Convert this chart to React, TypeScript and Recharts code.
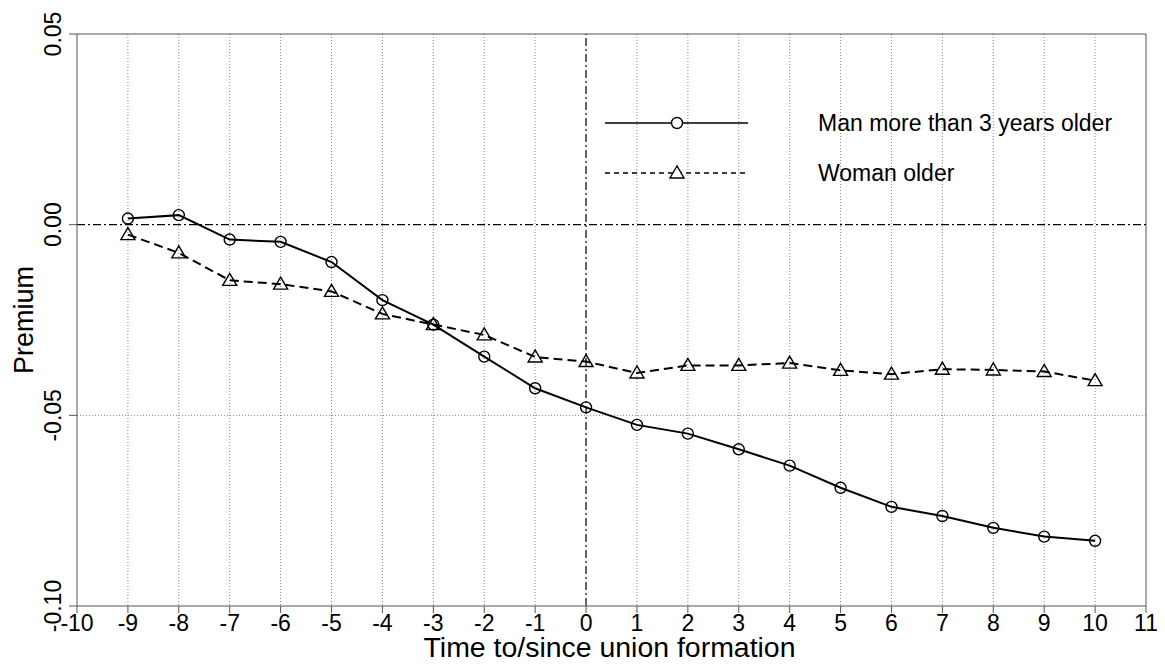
import React from 'react';
import { LineChart, Line, XAxis, YAxis, CartesianGrid, ReferenceLine, Legend, Label } from 'recharts';

const years = [-9, -8, -7, -6, -5, -4, -3, -2, -1, 0, 1, 2, 3, 4, 5, 6, 7, 8, 9, 10];
const manOlder = [0.0016, 0.0025, -0.0039, -0.0045, -0.0098, -0.0198, -0.0262, -0.0346, -0.0429, -0.0479, -0.0525, -0.0548, -0.0589, -0.0632, -0.0690, -0.0740, -0.0764, -0.0795, -0.0818, -0.0829];
const womanOlder = [-0.0026, -0.0074, -0.0146, -0.0156, -0.0175, -0.0234, -0.0262, -0.0289, -0.0347, -0.0359, -0.0389, -0.0369, -0.0369, -0.0363, -0.0382, -0.0392, -0.0379, -0.0381, -0.0385, -0.0409];
const xTicks = [-10, -9, -8, -7, -6, -5, -4, -3, -2, -1, 0, 1, 2, 3, 4, 5, 6, 7, 8, 9, 10, 11];
const yTicks = [-0.1, -0.05, 0, 0.05];
const manName = 'Man more than 3 years older';
const womanName = 'Woman older';
const xTitle = 'Time to/since union formation';
const yTitle = 'Premium';

const data = years.map((t, i) => ({ t, man: manOlder[i], woman: womanOlder[i] }));

const FONT = '"Liberation Sans", Arial, sans-serif';
const FRAME = '#555';

const CircleDot = (props: any) => {
  const { cx, cy } = props;
  if (cx == null || cy == null) return null;
  return <circle cx={cx} cy={cy} r={5.5} fill="none" stroke="#000" strokeWidth={1.4} />;
};

const TriangleDot = (props: any) => {
  const { cx, cy } = props;
  if (cx == null || cy == null) return null;
  return (
    <polygon
      points={`${cx},${cy - 7} ${cx - 7},${cy + 5} ${cx + 7},${cy + 5}`}
      fill="none"
      stroke="#000"
      strokeWidth={1.4}
    />
  );
};

const YTick = (props: any) => {
  const { y, payload } = props;
  const bx = 53;
  return (
    <text
      x={bx}
      y={y}
      transform={`rotate(-90, ${bx}, ${y})`}
      textAnchor="middle"
      fontSize={23}
      fontFamily={FONT}
      fill="#000"
    >
      {Number(payload.value).toFixed(2)}
    </text>
  );
};

const XTick = (props: any) => {
  const { x, y, payload } = props;
  return (
    <text x={x} y={y + 16} textAnchor="middle" fontSize={23} fontFamily={FONT} fill="#000">
      {payload.value}
    </text>
  );
};

const XTitle = (props: any) => {
  const vb = props.viewBox || {};
  const cx = vb.x + vb.width / 2 - 2;
  return (
    <text x={cx} y={649} textAnchor="middle" fontSize={27} fontFamily={FONT} fill="#000" textLength={372} lengthAdjust="spacingAndGlyphs">
      {xTitle}
    </text>
  );
};

const YTitle = (props: any) => {
  const vb = props.viewBox || {};
  const cy = vb.y + vb.height / 2;
  const bx = 25;
  return (
    <text x={bx} y={cy} transform={`rotate(-90, ${bx}, ${cy})`} textAnchor="middle" fontSize={27} fontFamily={FONT} fill="#000">
      {yTitle}
    </text>
  );
};

const LegendContent = () => (
  <svg width={540} height={90} style={{ display: 'block', overflow: 'visible' }}>
    <line x1={7} x2={150} y1={15} y2={15} stroke="#000" strokeWidth={1.5} />
    <circle cx={79} cy={15} r={5.5} fill="#fff" stroke="#000" strokeWidth={1.4} />
    <text x={220} y={15} dominantBaseline="central" fontSize={23} fontFamily={FONT} fill="#000">{manName}</text>
    <line x1={7} x2={150} y1={65} y2={65} stroke="#000" strokeWidth={1.5} strokeDasharray="5 4" />
    <polygon points={`79,58 72,70 86,70`} fill="#fff" stroke="#000" strokeWidth={1.4} />
    <text x={220} y={65} dominantBaseline="central" fontSize={23} fontFamily={FONT} fill="#000">{womanName}</text>
  </svg>
);

export default function App() {
  return (
    <div style={{ width: 1157, height: 658 }}>
      <LineChart width={1157} height={658} data={data} margin={{ top: 26, right: 19, bottom: 8, left: 0 }}>
        <CartesianGrid
          stroke="#888"
          strokeDasharray="1 2"
          horizontal={true}
          vertical={true}
          horizontalValues={[-0.05]}
          verticalValues={xTicks.filter((v) => v !== -10 && v !== 11 && v !== 0)}
        />
        <XAxis
          dataKey="t"
          type="number"
          domain={[-10, 11]}
          ticks={xTicks}
          interval={0}
          tickSize={7}
          tickMargin={2}
          stroke={FRAME}
          tick={<XTick />}
          height={52}
          allowDataOverflow
        >
          <Label content={<XTitle />} />
        </XAxis>
        <YAxis
          type="number"
          domain={[-0.1, 0.05]}
          ticks={yTicks}
          interval={0}
          tickSize={8}
          width={69}
          stroke={FRAME}
          tick={<YTick />}
          allowDataOverflow
        >
          <Label content={<YTitle />} />
        </YAxis>
        <ReferenceLine y={0.05} stroke={FRAME} strokeWidth={1} />
        <ReferenceLine x={11} stroke={FRAME} strokeWidth={1} />
        <ReferenceLine y={0} stroke="#000" strokeWidth={1.2} strokeDasharray="8 3 2 3" />
        <ReferenceLine x={0} stroke="#000" strokeWidth={1.2} strokeDasharray="8 3 2 3" />
        <Legend
          layout="vertical"
          align="center"
          verticalAlign="middle"
          content={<LegendContent />}
          wrapperStyle={{ position: 'absolute', left: 590, top: 100, width: 540, height: 90 }}
        />
        <Line
          name={manName}
          dataKey="man"
          stroke="#000"
          strokeWidth={2}
          dot={<CircleDot />}
          activeDot={false}
          isAnimationActive={false}
        />
        <Line
          name={womanName}
          dataKey="woman"
          stroke="#000"
          strokeWidth={2}
          strokeDasharray="9 5"
          dot={<TriangleDot />}
          activeDot={false}
          isAnimationActive={false}
        />
      </LineChart>
    </div>
  );
}
